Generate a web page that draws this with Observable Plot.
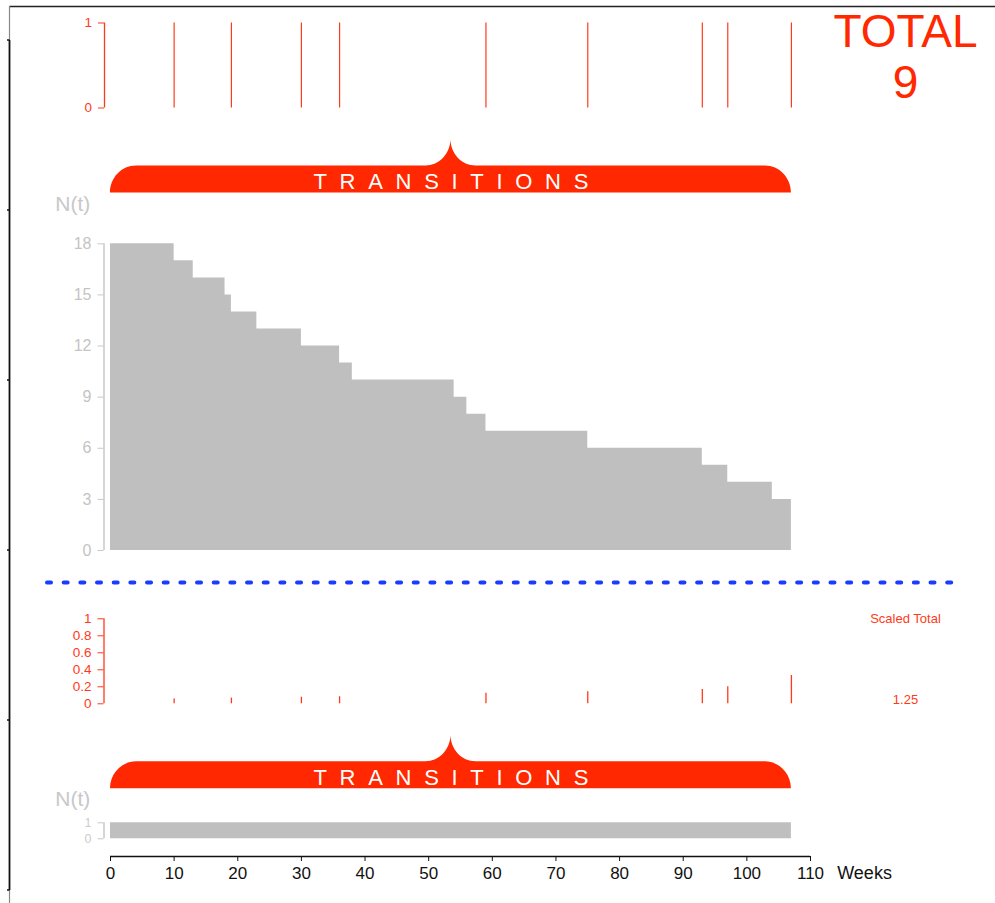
<!DOCTYPE html>
<html><head><meta charset="utf-8">
<script src="https://cdn.jsdelivr.net/npm/d3@7"></script>
<script src="https://cdn.jsdelivr.net/npm/@observablehq/plot@0.6"></script>
<style>
body{margin:0;background:#fff;}
#wrap{position:relative;width:995px;height:903px;overflow:hidden;font-family:"Liberation Sans",Arial,sans-serif;background:#fff;}
</style></head><body><div id="wrap"></div>
<script>
// ---- data ----
const transitionWeeks = [10, 19, 30, 36, 59, 75, 93, 97, 107];
const transitionFlags = [1, 1, 1, 1, 1, 1, 1, 1, 1];
const scaledValues = [0.056, 0.067, 0.077, 0.083, 0.125, 0.143, 0.167, 0.2, 0.333];
const stepWeeks = [0, 10, 13, 18, 19, 23, 30, 36, 38, 54, 56, 59, 75, 93, 97, 104, 107];
const atRisk    = [18, 17, 16, 15, 14, 13, 12, 11, 10, 9, 8, 7, 6, 5, 4, 3, 3];
const bottomWeeks = [0, 107];
const bottomN = [1, 1];
const nTicks = [0, 3, 6, 9, 12, 15, 18];
const binTicks = [0, 1];
const scaledTicks = [0, 0.2, 0.4, 0.6, 0.8, 1];
const weekTicks = [0, 10, 20, 30, 40, 50, 60, 70, 80, 90, 100, 110];
const totalLabel = "TOTAL";
const totalCount = 9;
const scaledTotalLabel = "Scaled Total";
const scaledTotal = "1.25";
const bannerLabel = "TRANSITIONS";
const nLabel = "N(t)";
const xLabel = "Weeks";

// ---- styles ----
const RED = "#ff3a1a";
const BANNER = "#ff2800";
const GRAY = "#bfbfbf";
const GRAYTXT = "#c4c4c4";
const FONT = "Liberation Sans, Arial, Helvetica, sans-serif";
const wrap = document.getElementById("wrap");
const fmt = d => String(d);

const stepData = stepWeeks.map((t, i) => ({t, n: atRisk[i]}));
const bottomData = bottomWeeks.map((t, i) => ({t, n: bottomN[i]}));
const transData = transitionWeeks.map((t, i) => ({t, f: transitionFlags[i], s: scaledValues[i]}));
const endWeek = stepWeeks[stepWeeks.length - 1];

function banner(yBottom) {
  return (index, scales) => {
    const sx = scales.x || (scales.scales && scales.scales.x);
    const x0 = sx(0), x1 = sx(endWeek), xm = (x0 + x1) / 2;
    const h = 27, r = 26, peak = 26.5, bw = 25;
    const yt = yBottom - h;
    const d = `M${x0},${yBottom} C${x0},${yBottom - 0.552 * h} ${x0 + 0.448 * r},${yt} ${x0 + r},${yt}` +
      ` H${xm - bw} C${xm - bw * 0.45},${yt} ${xm},${yt - peak * 0.45} ${xm},${yt - peak}` +
      ` C${xm},${yt - peak * 0.45} ${xm + bw * 0.45},${yt} ${xm + bw},${yt}` +
      ` H${x1 - r} C${x1 - 0.448 * r},${yt} ${x1},${yBottom - 0.552 * h} ${x1},${yBottom} Z`;
    const g = d3.create("svg:g");
    g.append("path").attr("d", d).attr("fill", BANNER);
    const ls = 12.7;
    g.append("text").attr("x", xm + ls / 2 + 0.5).attr("y", yBottom - 3.3)
      .attr("text-anchor", "middle").attr("fill", "#fff").attr("font-size", 22)
      .attr("letter-spacing", ls).attr("font-family", FONT).text(bannerLabel);
    return g.node();
  };
}

function place(svg, top) {
  svg.style.position = "absolute";
  svg.style.left = "0px";
  svg.style.top = top + "px";
  svg.style.overflow = "visible";
  svg.style.background = "transparent";
  wrap.appendChild(svg);
}

const common = {
  width: 995, marginLeft: 110, marginRight: 185,
  style: {fontFamily: FONT, background: "transparent", overflow: "visible"}
};

// ---- Panel 1: transitions ----
const p1 = Plot.plot({
  ...common, height: 200, marginTop: 22.5, marginBottom: 92.5,
  x: {domain: [0, 110], axis: null, label: null},
  y: {domain: [0, 1], label: null},
  marks: [
    Plot.ruleX([0], {y1: 0, y2: 1, dx: -6, stroke: RED, strokeWidth: 1.3}),
    Plot.axisY({ticks: binTicks, tickSize: 6, tickPadding: 6.5, dx: -6, stroke: RED, fill: RED, fontSize: 13.5, label: null, tickFormat: fmt}),
    Plot.ruleX(transData, {x: "t", y1: 0, y2: "f", stroke: RED, strokeWidth: 1.2}),
    Plot.text([`${totalLabel}\n${totalCount}`], {frameAnchor: "top-right", dx: 95, dy: -11.7, fontSize: 46, lineHeight: 1.1, lineAnchor: "top", textAnchor: "middle", fill: BANNER}),
    banner(192.5)
  ]
});
place(p1, 0);

// ---- Panel 2: N(t) step chart ----
const p2 = Plot.plot({
  ...common, height: 370, marginTop: 43.3, marginBottom: 20,
  x: {domain: [0, 110], axis: null, label: null},
  y: {domain: [0, 18], label: null},
  marks: [
    Plot.areaY(stepData, {x: "t", y: "n", curve: "step-after", fill: GRAY}),
    Plot.ruleX([0], {y1: 0, y2: 18, dx: -6.5, stroke: "#c8c8c8", strokeWidth: 1.5}),
    Plot.axisY({ticks: nTicks, tickSize: 6, tickPadding: 6.5, dx: -6.5, stroke: "#c8c8c8", fill: GRAYTXT, fontSize: 16, label: null, tickFormat: fmt}),
    Plot.text([nLabel], {frameAnchor: "top-left", dx: -37.7, dy: -33.3, lineAnchor: "bottom", textAnchor: "middle", fontSize: 21, fill: "#c8c8c8"})
  ]
});
place(p2, 200);

// ---- Panel 3: scaled transitions ----
const p3 = Plot.plot({
  ...common, height: 120, marginTop: 18.3, marginBottom: 16.7,
  x: {domain: [0, 110], axis: null, label: null},
  y: {domain: [0, 1], label: null},
  marks: [
    Plot.ruleX([0], {y1: 0, y2: 1, dx: -6.5, stroke: RED, strokeWidth: 1.3}),
    Plot.axisY({ticks: scaledTicks, tickSize: 6, tickPadding: 6.5, dx: -6.5, stroke: RED, fill: RED, fontSize: 13.5, label: null, tickFormat: fmt}),
    Plot.ruleX(transData, {x: "t", y1: 0, y2: "s", stroke: RED, strokeWidth: 1.3}),
    Plot.text([scaledTotalLabel], {frameAnchor: "top-right", dx: 95, dy: 4.2, lineAnchor: "bottom", textAnchor: "middle", fontSize: 13, fill: RED}),
    Plot.text([scaledTotal], {frameAnchor: "bottom-right", dx: 95, dy: -0.3, lineAnchor: "bottom", textAnchor: "middle", fontSize: 13, fill: RED})
  ]
});
place(p3, 600);

// ---- Panel 4: bottom N(t) + x axis ----
const p4 = Plot.plot({
  ...common, height: 183, marginTop: 102.3, marginBottom: 64.7,
  x: {domain: [0, 110], label: null},
  y: {domain: [0, 1], label: null},
  marks: [
    banner(68.3),
    Plot.text([nLabel], {frameAnchor: "top-left", dx: -37.7, dy: -17.3, lineAnchor: "bottom", textAnchor: "middle", fontSize: 21, fill: "#c8c8c8"}),
    Plot.areaY(bottomData, {x: "t", y: "n", curve: "step-after", fill: GRAY}),
    Plot.ruleX([0], {y1: 0, y2: 1, dx: -6.5, stroke: "#c8c8c8", strokeWidth: 1.5}),
    Plot.axisY({ticks: binTicks, tickSize: 6, tickPadding: 6.5, dx: -6.5, stroke: "#c8c8c8", fill: "#cccccc", fontSize: 12.5, label: null, tickFormat: fmt}),
    Plot.ruleY([0], {x1: 0, x2: 110, dy: 17.7, stroke: "#111", strokeWidth: 1.5}),
    Plot.axisX({ticks: weekTicks, tickSize: 5, tickPadding: 5.6, dy: 17.7, stroke: "#111", fill: "#111", fontSize: 17, label: null, tickFormat: fmt}),
    Plot.text([xLabel], {frameAnchor: "bottom-right", dx: 26.7, dy: 39.7, lineAnchor: "bottom", textAnchor: "start", fontSize: 18, fill: "#111"})
  ]
});
place(p4, 720);

// ---- page decorations: frame and blue separator ----
const deco = d3.create("svg").attr("width", 995).attr("height", 903)
  .style("position", "absolute").style("left", "0px").style("top", "0px").style("pointer-events", "none");
deco.append("path").attr("d", "M9.5,6.5H995").attr("stroke", "#222").attr("stroke-width", 1.3).attr("fill", "none");
deco.append("path").attr("d", "M9.5,6V40").attr("stroke", "#888").attr("stroke-width", 1.2);
deco.append("path").attr("d", "M9.5,40V890").attr("stroke", "#111").attr("stroke-width", 1.8);
deco.append("path").attr("d", "M9.5,890V903").attr("stroke", "#888").attr("stroke-width", 1.2);
[40, 210, 380, 550, 720, 890].forEach(y => {
  deco.append("path").attr("d", `M7,${y}H9.5`).attr("stroke", "#111").attr("stroke-width", 1.5);
});
deco.append("path").attr("d", "M47,582.5H961").attr("stroke", "#1a3cff").attr("stroke-width", 4)
  .attr("stroke-linecap", "round").attr("stroke-dasharray", "4 12.67").attr("fill", "none");
wrap.appendChild(deco.node());
</script></body></html>
